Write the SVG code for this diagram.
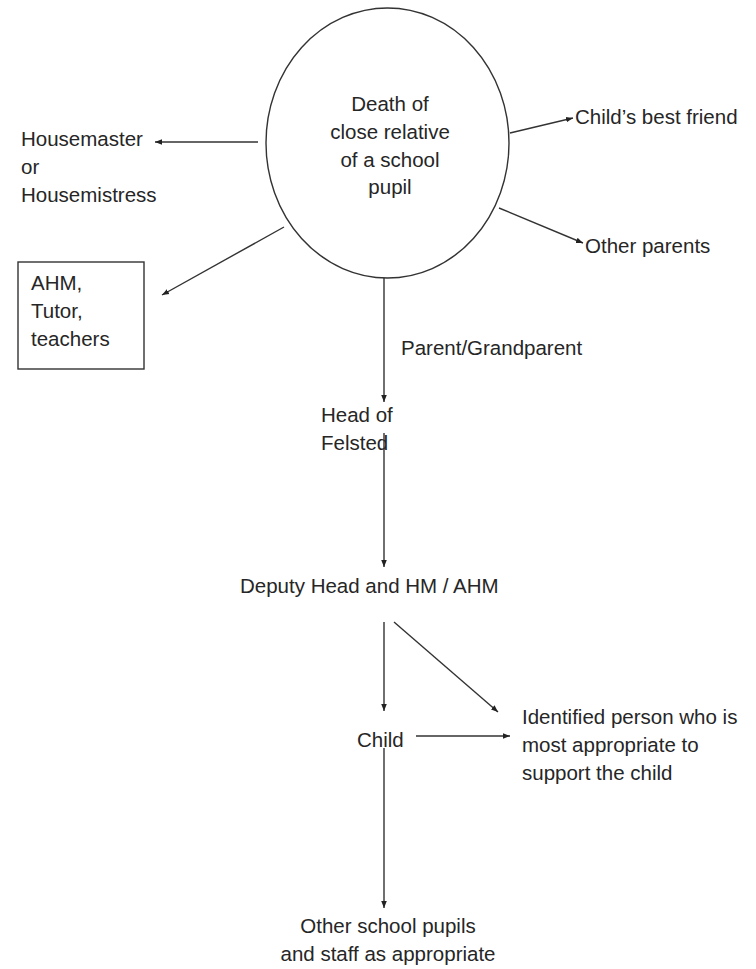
<svg xmlns="http://www.w3.org/2000/svg" width="756" height="969" viewBox="0 0 756 969">
<defs>
<marker id="arr" viewBox="0 0 10 10" refX="10" refY="5" markerWidth="7" markerHeight="7" markerUnits="userSpaceOnUse" orient="auto">
<path d="M0,1 L10,5 L0,9 z" fill="#222"/>
</marker>
<style>
text{font-family:"Liberation Sans",Arial,sans-serif;font-size:20.5px;fill:#262626}
.c{text-anchor:middle}
.ln{stroke:#333;stroke-width:1.4;fill:none;marker-end:url(#arr)}
.shape{stroke:#333;stroke-width:1.4;fill:#fff}
</style>
</defs>
<rect width="756" height="969" fill="#fff"/>
<g id="connectors">
<line class="ln" x1="258" y1="142" x2="155" y2="142"/>
<line class="ln" x1="284" y1="227" x2="162" y2="295"/>
<line class="ln" x1="510" y1="133" x2="573" y2="118"/>
<line class="ln" x1="499" y1="208" x2="583" y2="243"/>
<line class="ln" x1="384" y1="278" x2="384" y2="402"/>
<line class="ln" x1="384" y1="433" x2="384" y2="567"/>
<line class="ln" x1="384" y1="622" x2="384" y2="711"/>
<line class="ln" x1="394" y1="622" x2="498" y2="712"/>
<line class="ln" x1="416" y1="736" x2="510" y2="736"/>
<line class="ln" x1="384" y1="748" x2="384" y2="908"/>
</g>
<g id="death">
<ellipse class="shape" cx="387.5" cy="143" rx="121.5" ry="135"/>
<text class="c" x="390" y="111">Death of</text>
<text class="c" x="390" y="139">close relative</text>
<text class="c" x="390" y="167">of a school</text>
<text class="c" x="390" y="194">pupil</text>
</g>
<g id="housemaster">
<text x="21" y="146">Housemaster</text>
<text x="21" y="174">or</text>
<text x="21" y="202">Housemistress</text>
</g>
<g id="ahm">
<rect class="shape" x="18" y="262" width="126" height="107"/>
<text x="31" y="290">AHM,</text>
<text x="31" y="318">Tutor,</text>
<text x="31" y="346">teachers</text>
</g>
<g id="bestfriend">
<text x="575" y="124">Child’s best friend</text>
</g>
<g id="otherparents">
<text x="585" y="253">Other parents</text>
</g>
<g id="parentlabel">
<text x="401" y="355">Parent/Grandparent</text>
</g>
<g id="head">
<text x="321" y="422">Head of</text>
<text x="321" y="450">Felsted</text>
</g>
<g id="deputy">
<text x="240" y="593">Deputy Head and HM / AHM</text>
</g>
<g id="child">
<text x="357" y="747">Child</text>
</g>
<g id="identified">
<text x="522" y="724">Identified person who is</text>
<text x="522" y="752">most appropriate to</text>
<text x="522" y="780">support the child</text>
</g>
<g id="others">
<text class="c" x="388" y="933">Other school pupils</text>
<text class="c" x="388" y="961">and staff as appropriate</text>
</g>
</svg>
